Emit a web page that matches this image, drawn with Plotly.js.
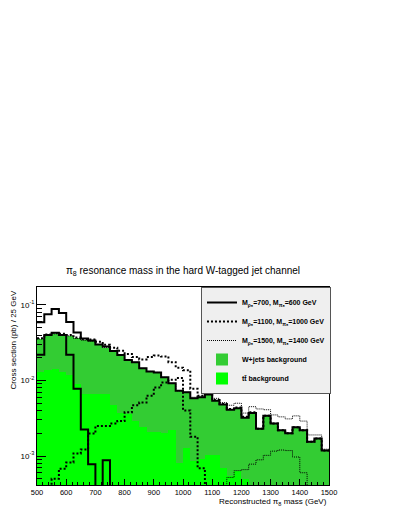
<!DOCTYPE html>
<html>
<head>
<meta charset="utf-8">
<script src="https://cdn.plot.ly/plotly-3.0.1.min.js"></script>
<style>
  body { margin: 0; background: #fff; }
  #chart { width: 395px; height: 511px; }
</style>
</head>
<body>
<div id="chart"></div>
<script>
// 40 bins of 25 GeV between 500 and 1500 GeV
const binLow = 500;
const binWidth = 25;

// total background (W+jets stacked on ttbar) and the ttbar part alone
const bkgTotal = [0.0355, 0.0395, 0.0415, 0.0405, 0.039, 0.036, 0.034, 0.033, 0.030, 0.0273,
	0.0245, 0.0218, 0.0187, 0.0175, 0.0145, 0.0132, 0.0128, 0.0110, 0.0092, 0.0073,
	0.0070, 0.0058, 0.0060, 0.0065, 0.0054, 0.0048, 0.0041, 0.0043, 0.0032, 0.0037,
	0.0023, 0.0034, 0.0027, 0.0022, 0.0020, 0.0024, 0.0022, 0.00155, 0.0017, 0.00118];
const ttbar = [0.0128, 0.0138, 0.0140, 0.0130, 0.0117, 0.0090, 0.0066, 0.0066, 0.0066, 0.0066,
	0.0048, 0.0037, 0.0036, 0.0029, 0.0024, 0.0021, 0.0021, 0.0020, 0.0022, 0.00082,
	0.00126, 0.00086, 0.0009, 0.00104, 0.00104, 0.0007, 0.00055, 0.00063, 0.0005, 0,
	0, 0, 0, 0, 0, 0, 0, 0, 0, 0];

// signal alone
const sig700 = [0.022, 0.040, 0.043, 0.040, 0.022, 0.0078, 0.00224, 0.00078, 0, 0.00088,
	0, 0, 0, 0, 0, 0, 0, 0, 0, 0,
	0, 0, 0, 0, 0, 0, 0, 0, 0, 0,
	0, 0, 0, 0, 0, 0, 0, 0, 0, 0];
const sig1100 = [0, 0, 0.0005, 0.00068, 0.00082, 0.00108, 0.00122, 0.00198, 0.0025, 0.0025,
	0.0027, 0.0029, 0.0038, 0.0047, 0.0051, 0.0063, 0.0081, 0.0094, 0.0102, 0.0108,
	0.0040, 0.0018, 0.00069, 0, 0, 0, 0, 0, 0, 0,
	0, 0, 0, 0, 0, 0, 0, 0, 0, 0];
const sig1500 = [0, 0, 0, 0, 0, 0, 0, 0, 0, 0,
	0, 0, 0, 0, 0, 0, 0, 0, 0, 0,
	0, 0, 0, 0, 0, 0, 0.00052, 0.00064, 0.00066, 0.00078,
	0.00089, 0.00102, 0.00116, 0.0012, 0.00118, 0.00097, 0.0006, 0, 0, 0];

// signal + background
const sig700SB = [0.059, 0.0753, 0.0885, 0.0784, 0.0596, 0.0433, 0.036, 0.0338, 0.030, 0.0282,
	0.0245, 0.0218, 0.0187, 0.0175, 0.0145, 0.0132, 0.0128, 0.0110, 0.0092, 0.0073,
	0.0070, 0.0058, 0.0060, 0.0065, 0.0054, 0.0048, 0.0041, 0.0043, 0.0032, 0.0037,
	0.0023, 0.0034, 0.0027, 0.0022, 0.0020, 0.0024, 0.0022, 0.00155, 0.0017, 0.00118];
const sig1100SB = [0.0362, 0.0405, 0.0425, 0.0415, 0.040, 0.0372, 0.0355, 0.035, 0.0325, 0.0298,
	0.0272, 0.0248, 0.0225, 0.0205, 0.0190, 0.0205, 0.0214, 0.0208, 0.0175, 0.0148,
	0.0137, 0.0078, 0.0063, 0.0066, 0.0055, 0.0049, 0.0042, 0.0044, 0.0033, 0.0038,
	0.0023, 0.0034, 0.0027, 0.0022, 0.0020, 0.0024, 0.0022, 0.00155, 0.0017, 0.00118];
const sig1500SB = [0.0355, 0.0395, 0.0415, 0.0405, 0.039, 0.036, 0.034, 0.033, 0.030, 0.0273,
	0.0245, 0.0218, 0.0187, 0.0175, 0.0145, 0.0132, 0.0128, 0.0110, 0.0092, 0.0073,
	0.0070, 0.0060, 0.0062, 0.0067, 0.0058, 0.0051, 0.0047, 0.0050, 0.0037, 0.0045,
	0.0042, 0.0041, 0.0035, 0.0033, 0.0031, 0.0034, 0.0029, 0.0019, 0.0019, 0.00123];

const xTicks = [500, 600, 700, 800, 900, 1000, 1100, 1200, 1300, 1400, 1500];
const yTicks = [0.001, 0.01, 0.1];
const yTickText = ['10<sup>-3</sup>', '10<sup>-2</sup>', '10<sup>-1</sup>'];

const nBins = bkgTotal.length;
const centers = bkgTotal.map((_, i) => binLow + binWidth * (i + 0.5));
const edges = [];
for (let i = 0; i <= nBins; i++) edges.push(binLow + binWidth * i);

// histogram outline: empty bins pushed far below the axis so the line drops to the frame
function stepY(vals) {
	const y = vals.map(v => (v > 0 ? v : 1e-7));
	y.push(y[y.length - 1]);
	return y;
}

const yMinor = [];
[0.0001, 0.001, 0.01, 0.1].forEach(d => {
	for (let k = 2; k <= 9; k++) yMinor.push(d * k);
});

function histLine(vals, dash, width, name, rank) {
	return {
		x: edges,
		y: stepY(vals),
		type: 'scatter',
		mode: 'lines',
		line: { shape: 'hv', color: 'black', width: width, dash: dash },
		name: name || 'signal only',
		showlegend: !!name,
		legendrank: rank || 1000,
		hoverinfo: 'skip'
	};
}

const traces = [
	{
		x: centers, y: bkgTotal, type: 'bar', width: binWidth,
		marker: { color: '#33cc33', line: { width: 0 } },
		name: 'W+jets background', legendrank: 4
	},
	{
		x: centers, y: ttbar.map(v => (v > 0 ? v : null)), type: 'bar', width: binWidth,
		marker: { color: '#00ff00', line: { width: 0 } },
		name: 'tt\u0304 background', legendrank: 5
	},
	histLine(sig1500SB, '1px,1px', 1, 'M<sub>ρ₈</sub>=1500, M<sub>π₈</sub>=1400 GeV', 3),
	histLine(sig1100SB, '2px,2px', 2, 'M<sub>ρ₈</sub>=1100, M<sub>π₈</sub>=1000 GeV', 2),
	histLine(sig700SB, 'solid', 2, 'M<sub>ρ₈</sub>=700, M<sub>π₈</sub>=600 GeV', 1),
	histLine(sig1500, '1px,1px', 1),
	histLine(sig1100, '2px,2px', 2),
	histLine(sig700, 'solid', 2)
];

const layout = {
	width: 395,
	height: 511,
	margin: { l: 37, r: 66, t: 287, b: 26 },
	paper_bgcolor: 'white',
	plot_bgcolor: 'white',
	font: { family: 'Liberation Sans, Arial, sans-serif', size: 8, color: 'black' },
	title: {
		text: 'π<sub>8</sub> resonance mass in the hard W-tagged jet channel',
		font: { size: 10 },
		x: 0.5, xref: 'paper',
		y: 1 - 270 / 511, yref: 'container', yanchor: 'middle'
	},
	barmode: 'overlay',
	bargap: 0,
	showlegend: true,
	xaxis: {
		range: [500, 1500],
		tickmode: 'array', tickvals: xTicks,
		ticks: 'inside', ticklen: 6, tickcolor: 'black',
		tickfont: { size: 7.5 },
		minor: { tickmode: 'linear', tick0: 500, dtick: 20, ticks: 'inside', ticklen: 3, tickcolor: 'black' },
		showline: true, mirror: true, linecolor: 'black', linewidth: 1,
		showgrid: false, zeroline: false
	},
	yaxis: {
		type: 'log',
		range: [Math.log10(4.13e-4), Math.log10(0.173)],
		tickmode: 'array', tickvals: yTicks, ticktext: yTickText,
		ticks: 'inside', ticklen: 9, tickcolor: 'black',
		minor: { tickmode: 'array', tickvals: yMinor, ticks: 'inside', ticklen: 5, tickcolor: 'black' },
		showline: true, mirror: true, linecolor: 'black', linewidth: 1,
		showgrid: false, zeroline: false
	},
	legend: {
		x: 0.5616, y: 1, xanchor: 'left', yanchor: 'top',
		bgcolor: '#efefef', bordercolor: '#555', borderwidth: 1,
		itemwidth: 30,
		font: { size: 7, weight: 'bold' }
	},
	annotations: [
		{
			text: 'Cross section (pb) / 25 GeV', textangle: -90,
			xref: 'paper', yref: 'paper', x: -0.079, y: 0.995,
			xanchor: 'center', yanchor: 'top', showarrow: false,
			font: { size: 8 }
		},
		{
			text: 'Reconstructed π<sub>8</sub> mass (GeV)',
			xref: 'paper', yref: 'paper', x: 1, y: -0.088,
			xanchor: 'right', yanchor: 'middle', showarrow: false,
			font: { size: 8 }
		}
	]
};

Plotly.newPlot('chart', traces, layout, { displayModeBar: false, staticPlot: true });
</script>
</body>
</html>
